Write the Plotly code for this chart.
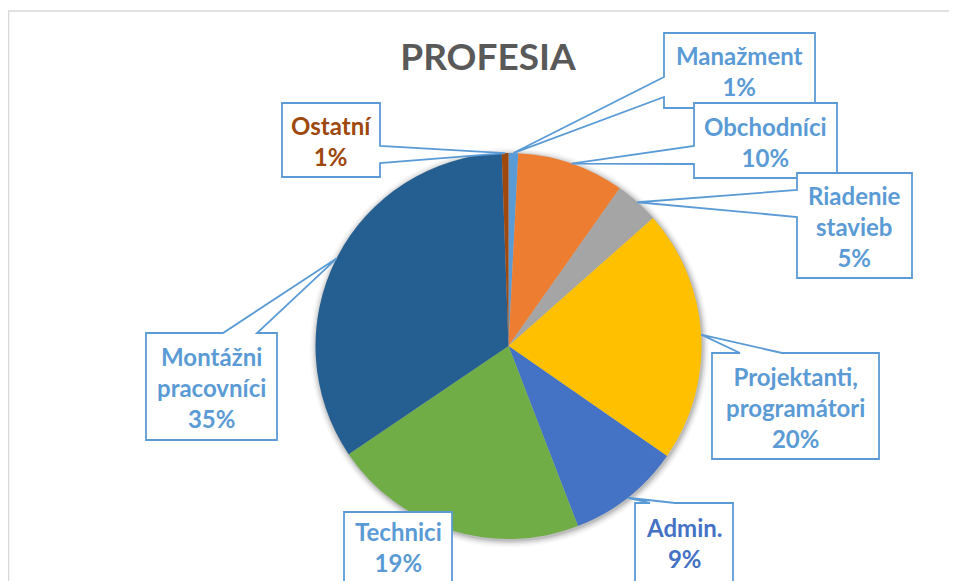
import math
import plotly.graph_objects as go

# ---- data ----
labels = ["Manažment", "Obchodníci", "Riadenie stavieb", "Projektanti, programátori",
          "Admin.", "Technici", "Montážni pracovníci", "Ostatní"]
label_lines = ["Manažment", "Obchodníci", "Riadenie<br>stavieb", "Projektanti,<br>programátori",
               "Admin.", "Technici", "Montážni<br>pracovníci", "Ostatní"]
shares = [0.81, 8.97, 3.69, 21.19, 9.48, 21.39, 33.91, 0.56]
label_pcts = [1, 10, 5, 20, 9, 19, 35, 1]
slice_colors = ["#5B9BD5", "#ED7D31", "#A5A5A5", "#FFC000",
                "#4472C4", "#70AD47", "#255E91", "#9E480E"]
text_colors = ["#5B9BD5", "#5B9BD5", "#5B9BD5", "#5B9BD5",
               "#4472C4", "#5B9BD5", "#5B9BD5", "#9E480E"]

# ---- layout constants (pixels, in page coordinates) ----
OFF = 8                      # default page body margin
W, H = 957 - OFF, 581 - OFF  # figure size
CX, CY, R = 508.5, 346.0, 193.0
# callout boxes: x0, y0, x1, y1, wedge side, base start, base end
boxes = [
    (664, 33, 815, 108, "left", 77, 97),
    (694, 103, 837, 178, "left", 146, 164),
    (797, 173, 912, 278, "left", 190, 217),
    (712, 353, 879, 459, "top", 740, 782),
    (635, 503, 733, 585, "top", 650, 675),
    (344, 512, 452, 590, None, 0, 0),
    (146, 333, 277, 440, "top", 223, 257),
    (282, 103, 380, 177, "right", 146, 163),
]


def px(x):
    return (x - OFF) / W


def py(y):
    return 1 - (y - OFF) / H


fig = go.Figure(go.Pie(
    labels=labels,
    values=shares,
    sort=False,
    direction="clockwise",
    rotation=0,
    marker=dict(colors=slice_colors, line=dict(width=0)),
    textinfo="none",
    hoverinfo="label+percent",
    showlegend=False,
    domain=dict(x=[px(CX - R), px(CX + R)], y=[py(CY + R), py(CY - R)]),
))

shapes = []
# chart frame
shapes.append(dict(type="rect", xref="paper", yref="paper",
                   x0=px(8.5), x1=1.05, y0=-0.05, y1=py(11),
                   line=dict(color="#D9D9D9", width=1.5), fillcolor="rgba(0,0,0,0)",
                   layer="below"))
# soft shadow around pie
for i, op in enumerate([0.10, 0.07, 0.05, 0.03, 0.02]):
    rr = R + 1 + i * 1.5
    shapes.append(dict(type="circle", xref="paper", yref="paper",
                       x0=px(CX - rr + 1), x1=px(CX + rr + 1),
                       y0=py(CY + rr + 1.5), y1=py(CY - rr + 1.5),
                       line=dict(width=0), fillcolor=f"rgba(0,0,0,{op})", layer="below"))

total = sum(shares)
annotations = []
cum = 0.0
for i, v in enumerate(shares):
    mid = (cum + v / 2) / total * 2 * math.pi
    cum += v
    tx = CX + R * math.sin(mid)
    ty = CY - R * math.cos(mid)
    x0, y0, x1, y1, side, b0, b1 = boxes[i]
    pts = [(x0, y0)]
    if side == "top":
        pts += [(b0, y0), (tx, ty), (b1, y0)]
    pts.append((x1, y0))
    if side == "right":
        pts += [(x1, b0), (tx, ty), (x1, b1)]
    pts.append((x1, y1))
    if side == "bottom":
        pts += [(b1, y1), (tx, ty), (b0, y1)]
    pts.append((x0, y1))
    if side == "left":
        pts += [(x0, b1), (tx, ty), (x0, b0)]
    path = "M " + " L ".join(f"{px(a):.5f},{py(b):.5f}" for a, b in pts) + " Z"
    shapes.append(dict(type="path", xref="paper", yref="paper", path=path,
                       line=dict(color="#5B9BD5", width=1.8), fillcolor="white",
                       layer="above"))
    ybox = min(y1, 580)
    annotations.append(dict(
        x=px((x0 + x1) / 2), y=py((y0 + ybox) / 2 + 1), xref="paper", yref="paper",
        text=f"<b>{label_lines[i]}<br>{label_pcts[i]}%</b>",
        showarrow=False, xanchor="center", yanchor="middle", align="center",
        font=dict(family="Lato", size=24, color=text_colors[i]),
    ))

fig.update_layout(
    width=W, height=H,
    margin=dict(l=0, r=0, t=0, b=0),
    paper_bgcolor="white", plot_bgcolor="white",
    title=dict(text="<b>PROFESIA</b>", x=px(488), y=py(57), xref="paper", yref="paper",
               xanchor="center", yanchor="middle",
               font=dict(family="Lato", size=37, color="#595959")),
    shapes=shapes,
    annotations=annotations,
)

fig.write_html("out.html")
